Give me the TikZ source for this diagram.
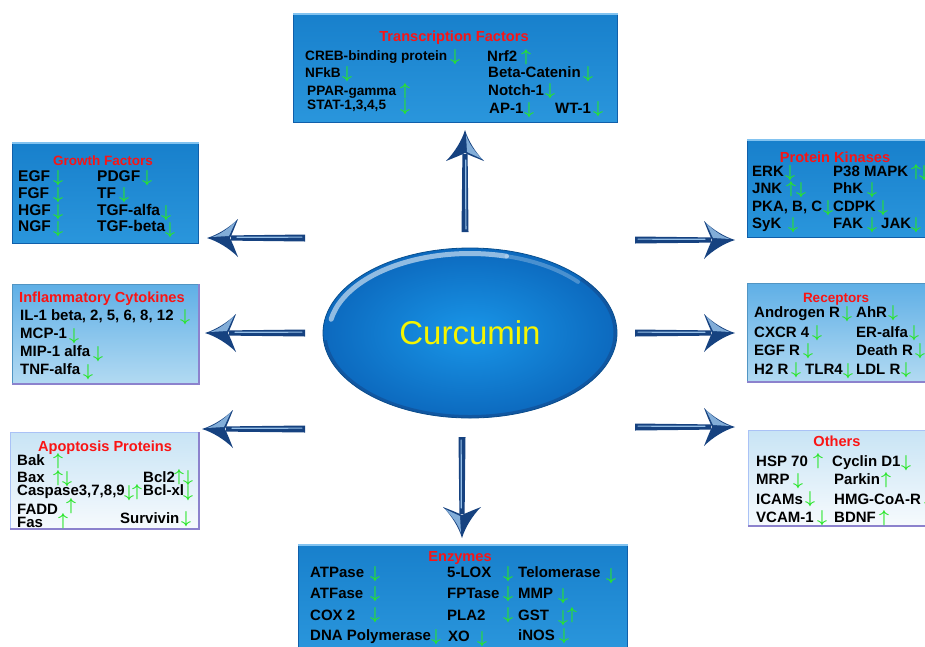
\documentclass[tikz,border=0pt]{standalone}
\usepackage{fontspec}
\setmainfont{Liberation Sans}
\usetikzlibrary{shapes.geometric}
\definecolor{dbTop}{RGB}{24,128,204}
\definecolor{dbBot}{RGB}{42,150,220}
\definecolor{dbEdge}{RGB}{16,95,170}
\definecolor{dbHi}{RGB}{130,195,240}
\definecolor{mbTop}{RGB}{95,175,230}
\definecolor{mbBot}{RGB}{178,218,242}
\definecolor{lbTop}{RGB}{200,228,245}
\definecolor{lbBot}{RGB}{246,250,253}
\definecolor{pEdge}{RGB}{140,130,205}
\definecolor{ttlred}{RGB}{250,20,20}
\definecolor{agreen}{RGB}{40,230,40}
\definecolor{arrnavy}{RGB}{22,66,128}
\definecolor{arrlight}{RGB}{150,192,232}
\definecolor{ellIn}{RGB}{25,150,232}
\definecolor{ellOut}{RGB}{12,105,190}
\definecolor{curY}{RGB}{245,245,0}

\newcounter{garr}
\newcommand\arrDn[2]{\stepcounter{garr}\node[garrow] (g\arabic{garr}) at (#1,#2) {$\downarrow$};}
\newcommand\arrUp[2]{\stepcounter{garr}\node[garrow] (g\arabic{garr}) at (#1,#2) {$\uparrow$};}
\newcommand\itm[5][item]{\node[#1] (#2) at (#3,#4) {#5};}
\newcommand\flowArrow[4]{%
 \begin{scope}[shift={(#1)}, rotate=#2]
  \fill[arrnavy] (0,-3.5) -- ({#3-24},-2.6) -- ({#3-24},2.6) -- (0,3.5) -- cycle;
  \draw[arrlight, line width=1.2pt, line cap=round] (3,{#4*0.9}) -- ({#3-30},{#4*0.7});
  \fill[arrnavy] (#3,0) .. controls ({#3-10},-3) and ({#3-22},-10) .. ({#3-31},-19)
    .. controls ({#3-27},-9) and ({#3-25},-4) .. ({#3-23},0)
    .. controls ({#3-25},4) and ({#3-27},9) .. ({#3-31},19)
    .. controls ({#3-22},10) and ({#3-10},3) .. (#3,0) -- cycle;
  \fill[arrlight, opacity=.85] ({#3-5},{#4*1}) .. controls ({#3-14},{#4*4}) and ({#3-22},{#4*10}) .. ({#3-29},{#4*17})
    .. controls ({#3-26},{#4*9}) .. ({#3-22},{#4*2}) -- cycle;
 \end{scope}}

\begin{document}
\begin{tikzpicture}[x=1pt,y=-1pt,
 item/.style={anchor=base west, inner sep=0pt, font=\fontsize{15}{15}\selectfont\bfseries},
 itemS/.style={item, font=\fontsize{13.6}{14}\selectfont\bfseries},
 itemL/.style={item, font=\fontsize{15.5}{16}\selectfont\bfseries},
 ttl/.style={anchor=base, inner sep=0pt, text=ttlred, font=\fontsize{14.6}{15}\selectfont\bfseries},
 ttlS/.style={ttl, font=\fontsize{13.5}{14}\selectfont\bfseries},
 garrow/.style={anchor=base, inner sep=0pt, text=agreen, font=\fontsize{17.28}{18}\selectfont\boldmath},
 box/.style={rectangle, inner sep=0pt, anchor=north west, line width=0.8pt},
 dbox/.style={box, top color=dbTop, bottom color=dbBot, draw=dbEdge},
 mbox/.style={box, top color=mbTop, bottom color=mbBot, draw=mbTop!85!black},
 lbox/.style={box, top color=lbTop, bottom color=lbBot, draw=lbTop!85!blue},
 pedge/.style={pEdge, line width=1.6pt},
 hiedge/.style={dbHi, line width=1.4pt},
]
\useasboundingbox (0,0) rectangle (925,646);
\clip (0,0) rectangle (925,646);
\fill[white] (0,0) rectangle (925,646);

% ---------- boxes ----------
\node[dbox, minimum width=324pt, minimum height=108pt] (tf) at (293,14) {};
\draw[hiedge] (tf.north west) -- (tf.north east);
\node[dbox, minimum width=186pt, minimum height=100pt] (gf) at (12,143) {};
\draw[hiedge] (gf.north west) -- (gf.north east);
\node[dbox, minimum width=190pt, minimum height=97pt] (pk) at (747,140) {};
\draw[hiedge] (pk.north west) -- (pk.north east);
\node[dbox, minimum width=329pt, minimum height=105pt] (en) at (298,545) {};
\draw[hiedge] (en.north west) -- (en.north east);
\node[mbox, minimum width=186pt, minimum height=99pt] (ic) at (12,284) {};
\draw[pedge] (ic.north east) -- (ic.south east) -- (ic.south west);
\node[mbox, minimum width=190pt, minimum height=98pt] (rc) at (747,283) {};
\draw[pedge] (rc.south west) -- (rc.south east);
\node[lbox, minimum width=188pt, minimum height=96pt] (ap) at (10,432) {};
\draw[pedge] (ap.north east) -- (ap.south east) -- (ap.south west);
\node[lbox, minimum width=190pt, minimum height=95pt] (ot) at (748,430) {};
\draw[pedge] (ot.south west) -- (ot.south east);

% ---------- Transcription Factors ----------
\node[ttl] (tft) at (454,41) {Transcription Factors};
\itm[itemS]{tf1}{305}{60}{CREB-binding protein} \arrDn{455}{61}
\itm[itemS]{tf2}{305}{77}{NFkB} \arrDn{347}{78}
\itm[itemS]{tf3}{307}{95}{PPAR-gamma} \arrUp{405}{95}
\itm[itemS]{tf4}{307}{109}{STAT-1,3,4,5} \arrDn{405}{111}
\itm{tf5}{487}{61}{Nrf2} \arrUp{526}{61}
\itm{tf6}{488}{77}{Beta-Catenin} \arrDn{588}{78}
\itm{tf7}{488}{95}{Notch-1} \arrDn{550}{95}
\itm{tf8}{489}{113}{AP-1} \arrDn{529}{114}
\itm{tf9}{555}{113}{WT-1} \arrDn{598}{113}

% ---------- Growth Factors ----------
\node[ttlS] (gft) at (103,165) {Growth Factors};
\itm[itemL]{gf1}{18}{181}{EGF} \arrDn{58}{182}
\itm[itemL]{gf2}{18}{198}{FGF} \arrDn{58}{199}
\itm[itemL]{gf3}{18}{215}{HGF} \arrDn{58}{216}
\itm[itemL]{gf4}{18}{231}{NGF} \arrDn{58}{233}
\itm[itemL]{gf5}{97}{181}{PDGF} \arrDn{147}{182}
\itm[itemL]{gf6}{97}{198}{TF} \arrDn{124}{199}
\itm[itemL]{gf7}{97}{215}{TGF-alfa} \arrDn{166}{217}
\itm[itemL]{gf8}{97}{231}{TGF-beta} \arrDn{170}{234}

% ---------- Protein Kinases ----------
\node[ttl] (pkt) at (835,162) {Protein Kinases};
\itm{pk1}{752}{176}{ERK} \arrDn{790}{177}
\itm{pk2}{752}{193}{JNK} \arrUp{791}{193} \arrDn{801}{194}
\itm{pk3}{752}{211}{PKA, B, C} \arrDn{828}{212}
\itm{pk4}{752}{228}{SyK} \arrDn{793}{229}
\itm{pk5}{833}{176}{P38 MAPK} \arrUp{916}{176} \arrDn{924}{177}
\itm{pk6}{833}{193}{PhK} \arrDn{872}{194}
\itm{pk7}{833}{211}{CDPK} \arrDn{883}{212}
\itm{pk8}{833}{228}{FAK} \arrDn{872}{229}
\itm{pk9}{881}{228}{JAK} \arrDn{916}{229}

% ---------- Inflammatory Cytokines ----------
\node[ttl, anchor=base west] (ict) at (19,302) {Inflammatory Cytokines};
\itm{ic1}{20}{320}{IL-1 beta, 2, 5, 6, 8, 12} \arrDn{185}{321}
\itm{ic2}{20}{338}{MCP-1} \arrDn{74}{340}
\itm{ic3}{20}{356}{MIP-1 alfa} \arrDn{98}{358}
\itm{ic4}{20}{374}{TNF-alfa} \arrDn{88}{376}

% ---------- Receptors ----------
\node[ttlS] (rct) at (836,302) {Receptors};
\itm{rc1}{754}{317}{Androgen R} \arrDn{847}{318}
\itm{rc2}{754}{337}{CXCR 4} \arrDn{817}{337}
\itm{rc3}{754}{355}{EGF R} \arrDn{808}{355}
\itm{rc4}{754}{374}{H2 R} \arrDn{796}{374}
\itm{rc5}{805}{374}{TLR4} \arrDn{848}{375}
\itm{rc6}{856}{317}{AhR} \arrDn{893}{317}
\itm{rc7}{856}{337}{ER-alfa} \arrDn{914}{337}
\itm{rc8}{856}{355}{Death R} \arrDn{920}{355}
\itm{rc9}{856}{374}{LDL R} \arrDn{906}{374}

% ---------- Apoptosis Proteins ----------
\node[ttl] (apt) at (105,451) {Apoptosis Proteins};
\itm{ap1}{17}{465}{Bak} \arrUp{58}{465}
\itm{ap2}{17}{482}{Bax} \arrUp{58}{482} \arrDn{67}{483}
\itm{ap3}{17}{495}{Caspase3,7,8,9} \arrDn{129}{497} \arrUp{137}{496}
\itm{ap4}{17}{514}{FADD} \arrUp{71}{510}
\itm{ap5}{17}{527}{Fas} \arrUp{63}{525}
\itm{ap6}{143}{482}{Bcl2} \arrUp{179}{481} \arrDn{188}{482}
\itm{ap7}{143}{495}{Bcl-xl} \arrDn{188}{497}
\itm{ap8}{120}{523}{Survivin} \arrDn{186}{523}

% ---------- Others ----------
\node[ttl] (ott) at (837,446) {Others};
\itm{ot1}{756}{466}{HSP 70} \arrUp{818}{465}
\itm{ot2}{756}{484}{MRP} \arrDn{798}{485}
\itm{ot3}{756}{504}{ICAMs} \arrDn{810}{503}
\itm{ot4}{756}{522}{VCAM-1} \arrDn{822}{522}
\itm{ot5}{832}{466}{Cyclin D1} \arrDn{906}{467}
\itm{ot6}{834}{484}{Parkin} \arrUp{886}{484}
\itm{ot7}{834}{504}{HMG-CoA-R} \arrDn{929}{504}
\itm{ot8}{834}{522}{BDNF} \arrUp{884}{522}

% ---------- Enzymes ----------
\node[ttl] (ent) at (460,561) {Enzymes};
\itm{en1}{310}{577}{ATPase} \arrDn{375}{578}
\itm{en2}{310}{598}{ATFase} \arrDn{375}{598}
\itm{en3}{310}{620}{COX 2} \arrDn{375}{619}
\itm{en4}{310}{640}{DNA Polymerase} \arrDn{436}{641}
\itm{en5}{447}{577}{5-LOX} \arrDn{508}{578}
\itm{en6}{447}{598}{FPTase} \arrDn{508}{598}
\itm{en7}{447}{620}{PLA2} \arrDn{508}{619}
\itm{en8}{448}{641}{XO} \arrDn{482}{643}
\itm{en9}{518}{577}{Telomerase} \arrDn{611}{580}
\itm{en10}{518}{598}{MMP} \arrDn{563}{600}
\itm{en11}{518}{620}{GST} \arrDn{563}{622} \arrUp{572}{619}
\itm{en12}{518}{640}{iNOS} \arrDn{564}{640}

% ---------- Curcumin ----------
\node[ellipse, minimum width=294pt, minimum height=170pt, inner sep=0pt,
      inner color=ellIn, outer color=ellOut, draw=ellOut!75!black, line width=0.8pt,
      text=curY, font=\fontsize{33}{33}\selectfont] (cur) at (470,333) {Curcumin};
\draw[white, opacity=.55, line width=5pt, line cap=round]
  ([shift={(cur.center)}]190:141 and 79.5) arc[start angle=190, end angle=285, x radius=141, y radius=79.5];
\draw[white, opacity=.25, line width=4pt, line cap=round]
  ([shift={(cur.center)}]285:141 and 79.5) arc[start angle=285, end angle=320, x radius=141, y radius=79.5];
\draw[arrnavy, opacity=.45, line width=3pt]
  ([shift={(cur.center)}]-40:145 and 83.5) arc[start angle=-40, end angle=175, x radius=145, y radius=83.5];

% ---------- arrows ----------
\coordinate (aUp) at (465,232);
\coordinate (aDn) at (462,437);
\coordinate (aGF) at (305,238);
\coordinate (aIC) at (305,333);
\coordinate (aAP) at (305,429);
\coordinate (aPK) at (635,240);
\coordinate (aRC) at (635,333);
\coordinate (aOT) at (635,427);
\flowArrow{aUp}{90}{102}{1}
\flowArrow{aDn}{-90}{101}{1}
\flowArrow{aGF}{180}{98}{1}
\flowArrow{aIC}{180}{100}{1}
\flowArrow{aAP}{180}{103}{1}
\flowArrow{aPK}{0}{100}{-1}
\flowArrow{aRC}{0}{100}{-1}
\flowArrow{aOT}{0}{100}{-1}
\end{tikzpicture}
\end{document}
